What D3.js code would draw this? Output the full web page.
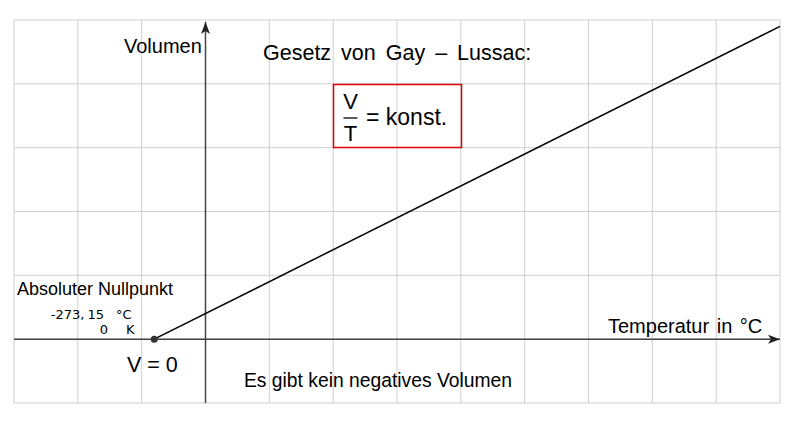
<!DOCTYPE html>
<html>
<head>
<meta charset="utf-8">
<script src="https://cdn.jsdelivr.net/npm/d3@7"></script>
<style>
  body { margin: 0; background: #fff; }
  text { font-family: "Liberation Sans", Arial, sans-serif; fill: #000; }
  .small { font-family: "DejaVu Sans", sans-serif; font-size: 13px; }
</style>
</head>
<body>
<script>
// Data: temperature in °C, volume in grid units
const temps = [-273.15, 3060];
const volumes = [0, 4.9];

// Grid ticks (one cell = 340 °C horizontally, 1 unit vertically)
const gridX = d3.range(-1020, 3061, 340);
const gridY = d3.range(-1, 6, 1);

const width = 800;
const height = 426;

const x = d3.scaleLinear().domain([-1020, 3060]).range([14, 780]);
const y = d3.scaleLinear().domain([-1, 5]).range([403, 20]);

const svg = d3.select('body')
    .append('svg')
    .attr('width', width)
    .attr('height', height);

// Arrow head
svg.append('defs').append('marker')
    .attr('id', 'arrow')
    .attr('viewBox', '0 -5 12 10')
    .attr('refX', 12)
    .attr('refY', 0)
    .attr('markerWidth', 12)
    .attr('markerHeight', 10)
    .attr('markerUnits', 'userSpaceOnUse')
    .attr('orient', 'auto')
    .append('path')
    .attr('d', 'M0,-4.5 L12,0 L0,4.5 L3,0 Z')
    .attr('fill', '#222');

// Grid
const grid = svg.append('g').attr('stroke', '#cfcfcf').attr('stroke-width', 1);
grid.selectAll('.gx')
    .data(gridX)
    .enter()
    .append('line')
    .attr('x1', d => x(d)).attr('x2', d => x(d))
    .attr('y1', y(-1)).attr('y2', y(5));
grid.selectAll('.gy')
    .data(gridY)
    .enter()
    .append('line')
    .attr('y1', d => y(d)).attr('y2', d => y(d))
    .attr('x1', x(-1020)).attr('x2', x(3060));

// Axes
svg.append('line')
    .attr('x1', x(-1020)).attr('x2', x(3060))
    .attr('y1', y(0)).attr('y2', y(0))
    .attr('stroke', '#444').attr('stroke-width', 1.5)
    .attr('marker-end', 'url(#arrow)');
svg.append('line')
    .attr('x1', x(0)).attr('x2', x(0))
    .attr('y1', y(-1)).attr('y2', y(4.97))
    .attr('stroke', '#444').attr('stroke-width', 1.5)
    .attr('marker-end', 'url(#arrow)');

// Gay-Lussac line
const pts = temps.map((t, i) => [t, volumes[i]]);
svg.append('path')
    .datum(pts)
    .attr('d', d3.line().x(d => x(d[0])).y(d => y(d[1])))
    .attr('fill', 'none')
    .attr('stroke', '#000')
    .attr('stroke-width', 1.5);

// Absolute zero point
svg.append('circle')
    .attr('cx', x(temps[0]))
    .attr('cy', y(volumes[0]))
    .attr('r', 3.5)
    .attr('fill', '#333');

// Labels
svg.append('text').attr('x', 124).attr('y', 53).style('font-size', '20px').text('Volumen');
svg.append('text').attr('x', 263).attr('y', 60)
    .style('font-size', '21.5px').style('word-spacing', '4px')
    .text('Gesetz von Gay – Lussac:');

// Formula box
svg.append('rect')
    .attr('x', 333.5).attr('y', 84.5)
    .attr('width', 128).attr('height', 63)
    .attr('fill', 'none')
    .attr('stroke', '#e00000')
    .attr('stroke-width', 1.5);
svg.append('text').attr('x', 350.5).attr('y', 109).attr('text-anchor', 'middle').style('font-size', '22px').text('V');
svg.append('line').attr('x1', 343.5).attr('x2', 357.5).attr('y1', 118).attr('y2', 118)
    .attr('stroke', '#000').attr('stroke-width', 1.3);
svg.append('text').attr('x', 350.5).attr('y', 140.5).attr('text-anchor', 'middle').style('font-size', '22px').text('T');
svg.append('text').attr('x', 366).attr('y', 125).style('font-size', '23px').text('= konst.');

svg.append('text').attr('x', 17).attr('y', 295).style('font-size', '18px').text('Absoluter Nullpunkt');
svg.append('text').attr('class', 'small').attr('x', 104).attr('y', 319).attr('text-anchor', 'end')
    .text('-273,')
    .append('tspan').attr('dx', 3).text('15');
svg.append('text').attr('class', 'small').attr('x', 116).attr('y', 319).text('°C');
svg.append('text').attr('class', 'small').attr('x', 108).attr('y', 334).attr('text-anchor', 'end').text('0');
svg.append('text').attr('class', 'small').attr('x', 126).attr('y', 334).text('K');

svg.append('text').attr('x', 127).attr('y', 372).style('font-size', '21.5px').text('V = 0');
svg.append('text').attr('x', 244).attr('y', 387).style('font-size', '19.3px').text('Es gibt kein negatives Volumen');
svg.append('text').attr('x', 608).attr('y', 333)
    .style('font-size', '20px').style('word-spacing', '2px')
    .text('Temperatur in °C');
</script>
</body>
</html>
